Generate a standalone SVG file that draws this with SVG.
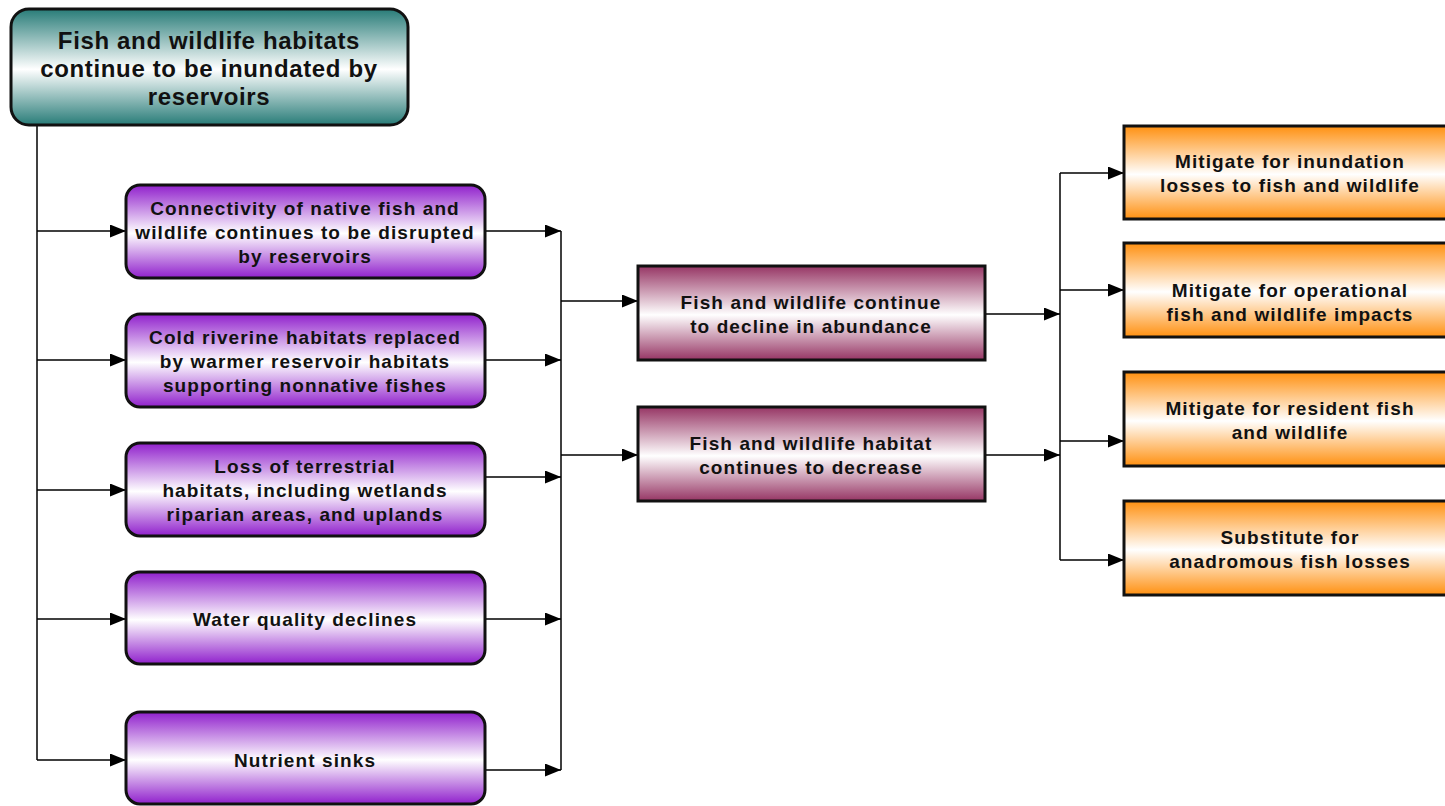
<svg xmlns="http://www.w3.org/2000/svg" width="1445" height="806" viewBox="0 0 1445 806">
  <defs>
    <linearGradient id="gTeal" x1="0" y1="0" x2="0" y2="1">
      <stop offset="0" stop-color="#287c78"/>
      <stop offset="0.52" stop-color="#ffffff"/>
      <stop offset="1" stop-color="#287c78"/>
    </linearGradient>
    <linearGradient id="gPurple" x1="0" y1="0" x2="0" y2="1">
      <stop offset="0" stop-color="#9020cc"/>
      <stop offset="0.52" stop-color="#ffffff"/>
      <stop offset="1" stop-color="#9020cc"/>
    </linearGradient>
    <linearGradient id="gMaroon" x1="0" y1="0" x2="0" y2="1">
      <stop offset="0" stop-color="#963564"/>
      <stop offset="0.52" stop-color="#ffffff"/>
      <stop offset="1" stop-color="#963564"/>
    </linearGradient>
    <linearGradient id="gOrange" x1="0" y1="0" x2="0" y2="1">
      <stop offset="0" stop-color="#ff9010"/>
      <stop offset="0.52" stop-color="#ffffff"/>
      <stop offset="1" stop-color="#ff9010"/>
    </linearGradient>
    <marker id="arrow" viewBox="0 0 16 13" refX="16" refY="6.5" markerWidth="16" markerHeight="13" markerUnits="userSpaceOnUse" orient="auto">
      <path d="M0,0 L16,6.5 L0,13 Z" fill="#000"/>
    </marker>
  </defs>
  <style>
    .box { stroke: #111; stroke-width: 3; }
    .teal { fill: url(#gTeal); }
    .purple { fill: url(#gPurple); }
    .maroon { fill: url(#gMaroon); }
    .orange { fill: url(#gOrange); }
    .lbl { font-family: "Liberation Sans", Arial, sans-serif; font-weight: bold; font-size: 19px; letter-spacing: 1.1px; fill: #111; text-anchor: middle; }
    .big { font-size: 24px; letter-spacing: 0.65px; }
    .wire { fill: none; stroke: #000; stroke-width: 1.5; }
    .arr { marker-end: url(#arrow); }
  </style>

  <rect width="1445" height="806" fill="#fff"/>

  <!-- connectors -->
  <g id="connectors">
    <!-- root trunk feeding the five impact boxes -->
    <path class="wire" d="M37,125 V760"/>
    <path class="wire arr" d="M37,231 H126"/>
    <path class="wire arr" d="M37,360 H126"/>
    <path class="wire arr" d="M37,490 H126"/>
    <path class="wire arr" d="M37,619 H126"/>
    <path class="wire arr" d="M37,760 H126"/>
    <!-- impact boxes into the collector bus -->
    <path class="wire arr" d="M485,231 H561"/>
    <path class="wire arr" d="M485,360 H561"/>
    <path class="wire arr" d="M485,477 H561"/>
    <path class="wire arr" d="M485,619 H561"/>
    <path class="wire arr" d="M485,770 H561"/>
    <path class="wire" d="M561,231 V770"/>
    <path class="wire arr" d="M561,301 H638"/>
    <path class="wire arr" d="M561,455 H638"/>
    <!-- outcomes into the mitigation bus -->
    <path class="wire arr" d="M985,314 H1060"/>
    <path class="wire arr" d="M985,455 H1060"/>
    <path class="wire" d="M1060,173 V560"/>
    <path class="wire arr" d="M1060,173 H1124"/>
    <path class="wire arr" d="M1060,290 H1124"/>
    <path class="wire arr" d="M1060,441 H1124"/>
    <path class="wire arr" d="M1060,560 H1124"/>
  </g>

  <g id="root">
    <rect class="box teal" x="11" y="9" width="397" height="116" rx="18"/>
    <text class="lbl big" x="209" y="49">Fish and wildlife habitats</text>
    <text class="lbl big" x="209" y="77">continue to be inundated by</text>
    <text class="lbl big" x="209" y="105">reservoirs</text>
  </g>

  <g id="connectivity">
    <rect class="box purple" x="126" y="185" width="359" height="93" rx="14"/>
    <text class="lbl" x="305" y="215">Connectivity of native fish and</text>
    <text class="lbl" x="305" y="239">wildlife continues to be disrupted</text>
    <text class="lbl" x="305" y="263">by reservoirs</text>
  </g>

  <g id="cold-riverine">
    <rect class="box purple" x="126" y="314" width="359" height="93" rx="14"/>
    <text class="lbl" x="305" y="344">Cold riverine habitats replaced</text>
    <text class="lbl" x="305" y="368">by warmer reservoir habitats</text>
    <text class="lbl" x="305" y="392">supporting nonnative fishes</text>
  </g>

  <g id="terrestrial-loss">
    <rect class="box purple" x="126" y="443" width="359" height="93" rx="14"/>
    <text class="lbl" x="305" y="473">Loss of terrestrial</text>
    <text class="lbl" x="305" y="497">habitats, including wetlands</text>
    <text class="lbl" x="305" y="521">riparian areas, and uplands</text>
  </g>

  <g id="water-quality">
    <rect class="box purple" x="126" y="572" width="359" height="92" rx="14"/>
    <text class="lbl" x="305" y="626">Water quality declines</text>
  </g>

  <g id="nutrient-sinks">
    <rect class="box purple" x="126" y="712" width="359" height="92" rx="14"/>
    <text class="lbl" x="305" y="767">Nutrient sinks</text>
  </g>

  <g id="abundance-decline">
    <rect class="box maroon" x="638" y="266" width="347" height="94"/>
    <text class="lbl" x="811" y="309">Fish and wildlife continue</text>
    <text class="lbl" x="811" y="333">to decline in abundance</text>
  </g>

  <g id="habitat-decrease">
    <rect class="box maroon" x="638" y="407" width="347" height="94"/>
    <text class="lbl" x="811" y="450">Fish and wildlife habitat</text>
    <text class="lbl" x="811" y="474">continues to decrease</text>
  </g>

  <g id="mitigate-inundation">
    <rect class="box orange" x="1124" y="126" width="332" height="93"/>
    <text class="lbl" x="1290" y="168">Mitigate for inundation</text>
    <text class="lbl" x="1290" y="192">losses to fish and wildlife</text>
  </g>

  <g id="mitigate-operational">
    <rect class="box orange" x="1124" y="243" width="332" height="94"/>
    <text class="lbl" x="1290" y="297">Mitigate for operational</text>
    <text class="lbl" x="1290" y="321">fish and wildlife impacts</text>
  </g>

  <g id="mitigate-resident">
    <rect class="box orange" x="1124" y="372" width="332" height="94"/>
    <text class="lbl" x="1290" y="415">Mitigate for resident fish</text>
    <text class="lbl" x="1290" y="439">and wildlife</text>
  </g>

  <g id="substitute-anadromous">
    <rect class="box orange" x="1124" y="501" width="332" height="94"/>
    <text class="lbl" x="1290" y="544">Substitute for</text>
    <text class="lbl" x="1290" y="568">anadromous fish losses</text>
  </g>
</svg>
